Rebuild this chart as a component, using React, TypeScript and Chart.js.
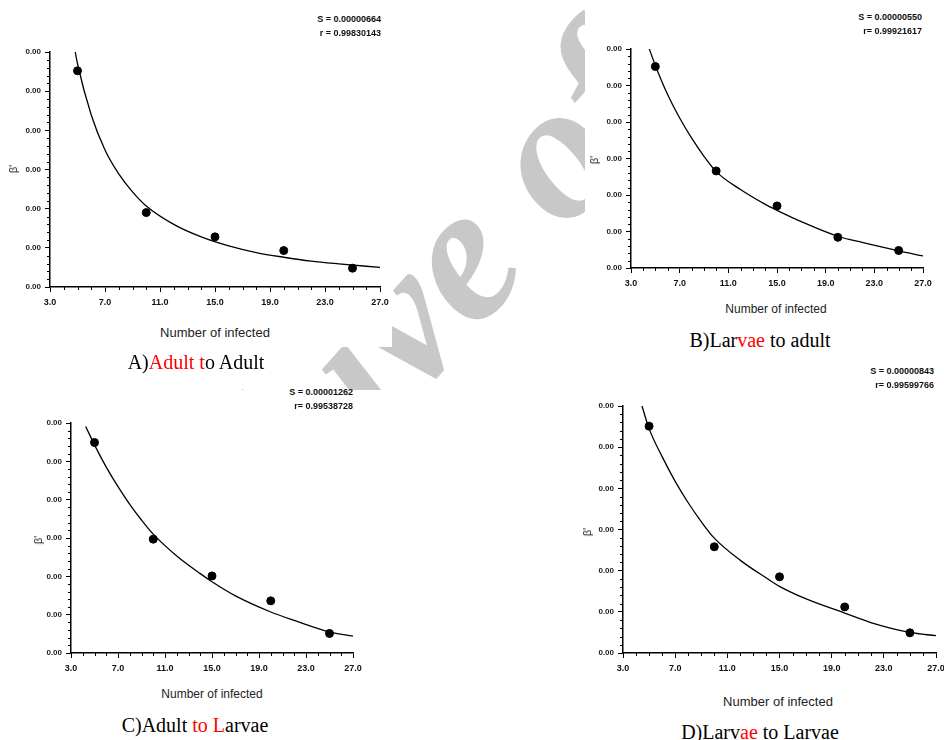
import React, { useEffect, useRef } from "react";
import { Chart, registerables } from "chart.js";
Chart.register(...registerables);

// ---------- data ----------
const xTickValues = [3, 7, 11, 15, 19, 23, 27];
const yTickValues = [0, 1, 2, 3, 4, 5, 6];
const yTickLabel = "0.00";
const infectedX = [5, 10, 15, 20, 25];

// A) Adult to Adult
const aPointsY = [5.52, 1.9, 1.28, 0.93, 0.48];
const aCurveX = [4.8, 5, 6, 7, 8, 9, 10, 12, 14, 16, 18, 20, 22, 24, 27];
const aCurveY = [6.07, 5.7, 4.39, 3.5, 2.89, 2.43, 2.07, 1.6, 1.28, 1.05, 0.88, 0.76, 0.66, 0.59, 0.5];

// B) Larvae to adult
const bPointsY = [5.52, 2.66, 1.7, 0.84, 0.48];
const bCurveX = [4.4, 5, 6, 7, 8, 9, 10, 12, 14, 15, 17, 20, 22, 25, 27];
const bCurveY = [6.1, 5.55, 4.76, 4.11, 3.55, 3.06, 2.64, 2.15, 1.75, 1.58, 1.27, 0.87, 0.7, 0.47, 0.33];

// C) Adult to Larvae
const cPointsY = [5.49, 2.97, 2.01, 1.36, 0.51];
const cCurveX = [4.25, 5, 6, 7, 8, 9, 10, 12, 14, 15, 17, 20, 22, 25, 27];
const cCurveY = [5.91, 5.43, 4.85, 4.34, 3.88, 3.47, 3.1, 2.53, 2.07, 1.86, 1.49, 1.07, 0.85, 0.55, 0.44];

// D) Larvae to Larvae
const dPointsY = [5.51, 2.58, 1.85, 1.12, 0.49];
const dCurveX = [4.4, 5, 6, 7, 8, 9, 10, 12, 14, 15, 17, 20, 22, 25, 27];
const dCurveY = [6.06, 5.45, 4.77, 4.17, 3.65, 3.19, 2.79, 2.25, 1.82, 1.62, 1.32, 0.97, 0.74, 0.5, 0.42];

const statsS = ["S = 0.00000664", "S = 0.00000550", "S = 0.00001262", "S = 0.00000843"];
const statsR = ["r = 0.99830143", "r= 0.99921617", "r= 0.99538728", "r= 0.99599766"];
const xTitle = "Number of infected";
const yTitle = "β'";

// ---------- layout ----------
type Area = { left: number; top: number; right: number; bottom: number };
type PanelDef = {
  area: Area;
  pointsY: number[];
  curveX: number[];
  curveY: number[];
  sText: string;
  rText: string;
  statsRight: number;
  statsTop: number;
  xTitlePos: [number, number, number];
  yTitlePos: [number, number];
  bg: [number, number, number, number];
};

const panels: PanelDef[] = [
  {
    area: { left: 50, top: 52, right: 380, bottom: 287 },
    pointsY: aPointsY, curveX: aCurveX, curveY: aCurveY,
    sText: statsS[0], rText: statsR[0], statsRight: 381, statsTop: 19,
    xTitlePos: [215, 332, 13], yTitlePos: [13, 169],
    bg: [0, 0, 392, 347],
  },
  {
    area: { left: 631, top: 49, right: 923, bottom: 268 },
    pointsY: bPointsY, curveX: bCurveX, curveY: bCurveY,
    sText: statsS[1], rText: statsR[1], statsRight: 922, statsTop: 17,
    xTitlePos: [776, 309, 12], yTitlePos: [594, 160],
    bg: [585, 0, 944, 322],
  },
  {
    area: { left: 71, top: 423, right: 353, bottom: 653 },
    pointsY: cPointsY, curveX: cCurveX, curveY: cCurveY,
    sText: statsS[2], rText: statsR[2], statsRight: 353, statsTop: 392,
    xTitlePos: [212, 694, 12], yTitlePos: [38, 540],
    bg: [0, 390, 425, 740],
  },
  {
    area: { left: 623, top: 406, right: 936, bottom: 653 },
    pointsY: dPointsY, curveX: dCurveX, curveY: dCurveY,
    sText: statsS[3], rText: statsR[3], statsRight: 934, statsTop: 371,
    xTitlePos: [778, 701, 13], yTitlePos: [587, 532],
    bg: [570, 358, 944, 740],
  },
];

const PAD_L = 60, PAD_T = 20, PAD_R = 20, PAD_B = 30;

const minorTicks = {
  id: "minorTicks",
  afterDraw(chart: any) {
    const { ctx, chartArea } = chart;
    const x = chart.scales.x, y = chart.scales.y;
    ctx.save();
    ctx.strokeStyle = "#000";
    ctx.lineWidth = 1;
    ctx.beginPath();
    for (let v = 3; v <= 27; v += 1) {
      if ((v - 3) % 4 === 0) continue;
      const px = Math.round(x.getPixelForValue(v)) + 0.5;
      ctx.moveTo(px, chartArea.bottom);
      ctx.lineTo(px, chartArea.bottom + 3);
    }
    for (let i = 1; i < 30; i++) {
      if (i % 5 === 0) continue;
      const py = Math.round(y.getPixelForValue(i * 0.2)) + 0.5;
      ctx.moveTo(chartArea.left - 3, py);
      ctx.lineTo(chartArea.left, py);
    }
    ctx.stroke();
    ctx.restore();
  },
};

const tickFont = { family: "'Liberation Sans', Arial, sans-serif", size: 9, weight: "bold" as const };

function Panel({ def }: { def: PanelDef }) {
  const ref = useRef<HTMLCanvasElement | null>(null);
  const { area } = def;
  const w = area.right - area.left + PAD_L + PAD_R;
  const h = area.bottom - area.top + PAD_T + PAD_B;

  useEffect(() => {
    if (!ref.current) return;
    const chart = new Chart(ref.current, {
      type: "scatter",
      data: {
        datasets: [
          {
            data: infectedX.map((x, i) => ({ x, y: def.pointsY[i] })),
            pointRadius: 4,
            pointBackgroundColor: "#000",
            pointBorderColor: "#000",
            showLine: false,
          } as any,
          {
            data: def.curveX.map((x, i) => ({ x, y: def.curveY[i] })),
            showLine: true,
            pointRadius: 0,
            borderColor: "#000",
            borderWidth: 1.3,
            cubicInterpolationMode: "monotone",
            fill: false,
          } as any,
        ],
      },
      options: {
        animation: false,
        responsive: false,
        events: [],
        layout: { padding: { left: 0, top: PAD_T, right: PAD_R, bottom: 0 } },
        plugins: { legend: { display: false }, tooltip: { enabled: false } },
        scales: {
          x: {
            type: "linear",
            min: 3,
            max: 27,
            afterBuildTicks: (s: any) => {
              s.ticks = xTickValues.map((v) => ({ value: v }));
            },
            afterFit: (s: any) => {
              s.height = PAD_B;
            },
            ticks: {
              callback: (v: any) => Number(v).toFixed(1),
              font: tickFont,
              color: "#111",
              padding: 5,
              maxRotation: 0,
              autoSkip: false,
            },
            grid: { drawOnChartArea: false, color: "#000", tickLength: 5, lineWidth: 1 },
            border: { color: "#000", width: 1.5 },
          },
          y: {
            type: "linear",
            min: 0,
            max: 6,
            afterBuildTicks: (s: any) => {
              s.ticks = yTickValues.map((v) => ({ value: v }));
            },
            afterFit: (s: any) => {
              s.width = PAD_L;
            },
            ticks: {
              callback: () => yTickLabel,
              font: { ...tickFont, size: 8 },
              color: "#222",
              padding: 4,
              autoSkip: false,
            },
            grid: { drawOnChartArea: false, color: "#000", tickLength: 5, lineWidth: 1 },
            border: { color: "#000", width: 1.5 },
          },
        },
      } as any,
      plugins: [minorTicks],
    });
    return () => chart.destroy();
  }, []);

  const [bx0, by0, bx1, by1] = def.bg;
  return (
    <>
      <div style={{ position: "absolute", left: bx0, top: by0, width: bx1 - bx0, height: by1 - by0, background: "#fff" }} />
      <canvas
        ref={ref}
        width={w}
        height={h}
        style={{ position: "absolute", left: area.left - PAD_L, top: area.top - PAD_T, width: w, height: h }}
      />
      <div style={{ position: "absolute", right: 944 - def.statsRight, top: def.statsTop - 6, font: "bold 9px 'Liberation Sans', Arial, sans-serif", color: "#111", whiteSpace: "nowrap", lineHeight: "12px" }}>
        {def.sText}
      </div>
      <div style={{ position: "absolute", right: 944 - def.statsRight, top: def.statsTop + 8, font: "bold 9px 'Liberation Sans', Arial, sans-serif", color: "#111", whiteSpace: "nowrap", lineHeight: "12px" }}>
        {def.rText}
      </div>
      <div style={{ position: "absolute", left: def.xTitlePos[0], top: def.xTitlePos[1], transform: "translate(-50%,-50%)", font: `${def.xTitlePos[2]}px 'Liberation Sans', Arial, sans-serif`, color: "#222", whiteSpace: "nowrap" }}>
        {xTitle}
      </div>
      <div style={{ position: "absolute", left: def.yTitlePos[0], top: def.yTitlePos[1], transform: "translate(-50%,-50%) rotate(-90deg)", font: "11px 'Liberation Sans', Arial, sans-serif", color: "#222", whiteSpace: "nowrap" }}>
        {yTitle}
      </div>
    </>
  );
}

const red = { color: "#ff0000" };
const captionStyle = (x: number, y: number): React.CSSProperties => ({
  position: "absolute",
  left: x,
  top: y,
  transform: "translate(-50%,-50%)",
  font: "20px 'Liberation Serif', 'Times New Roman', serif",
  color: "#000",
  whiteSpace: "nowrap",
  zIndex: 5,
});

export default function App() {
  return (
    <div style={{ position: "absolute", left: 0, top: 0, width: 944, height: 740, overflow: "hidden", background: "#fff" }}>
      <div
        style={{
          position: "absolute",
          left: -9,
          top: 627,
          transformOrigin: "0 0",
          transform: "rotate(-48deg)",
          font: "italic bold 195px 'Liberation Serif', serif",
          lineHeight: 1,
          color: "#c8c8c8",
          whiteSpace: "nowrap",
        }}
      >
        Archive of SID
      </div>
      {panels.map((p, i) => (
        <Panel key={i} def={p} />
      ))}
      <div style={captionStyle(196, 362)}>
        A)<span style={red}>Adult t</span>o Adult
      </div>
      <div style={captionStyle(760, 340)}>
        B)Lar<span style={red}>vae</span> to adult
      </div>
      <div style={captionStyle(195, 725)}>
        C)Adult <span style={red}>to L</span>arvae
      </div>
      <div style={captionStyle(760, 732)}>
        D)Larv<span style={red}>ae</span> to Larvae
      </div>
    </div>
  );
}
